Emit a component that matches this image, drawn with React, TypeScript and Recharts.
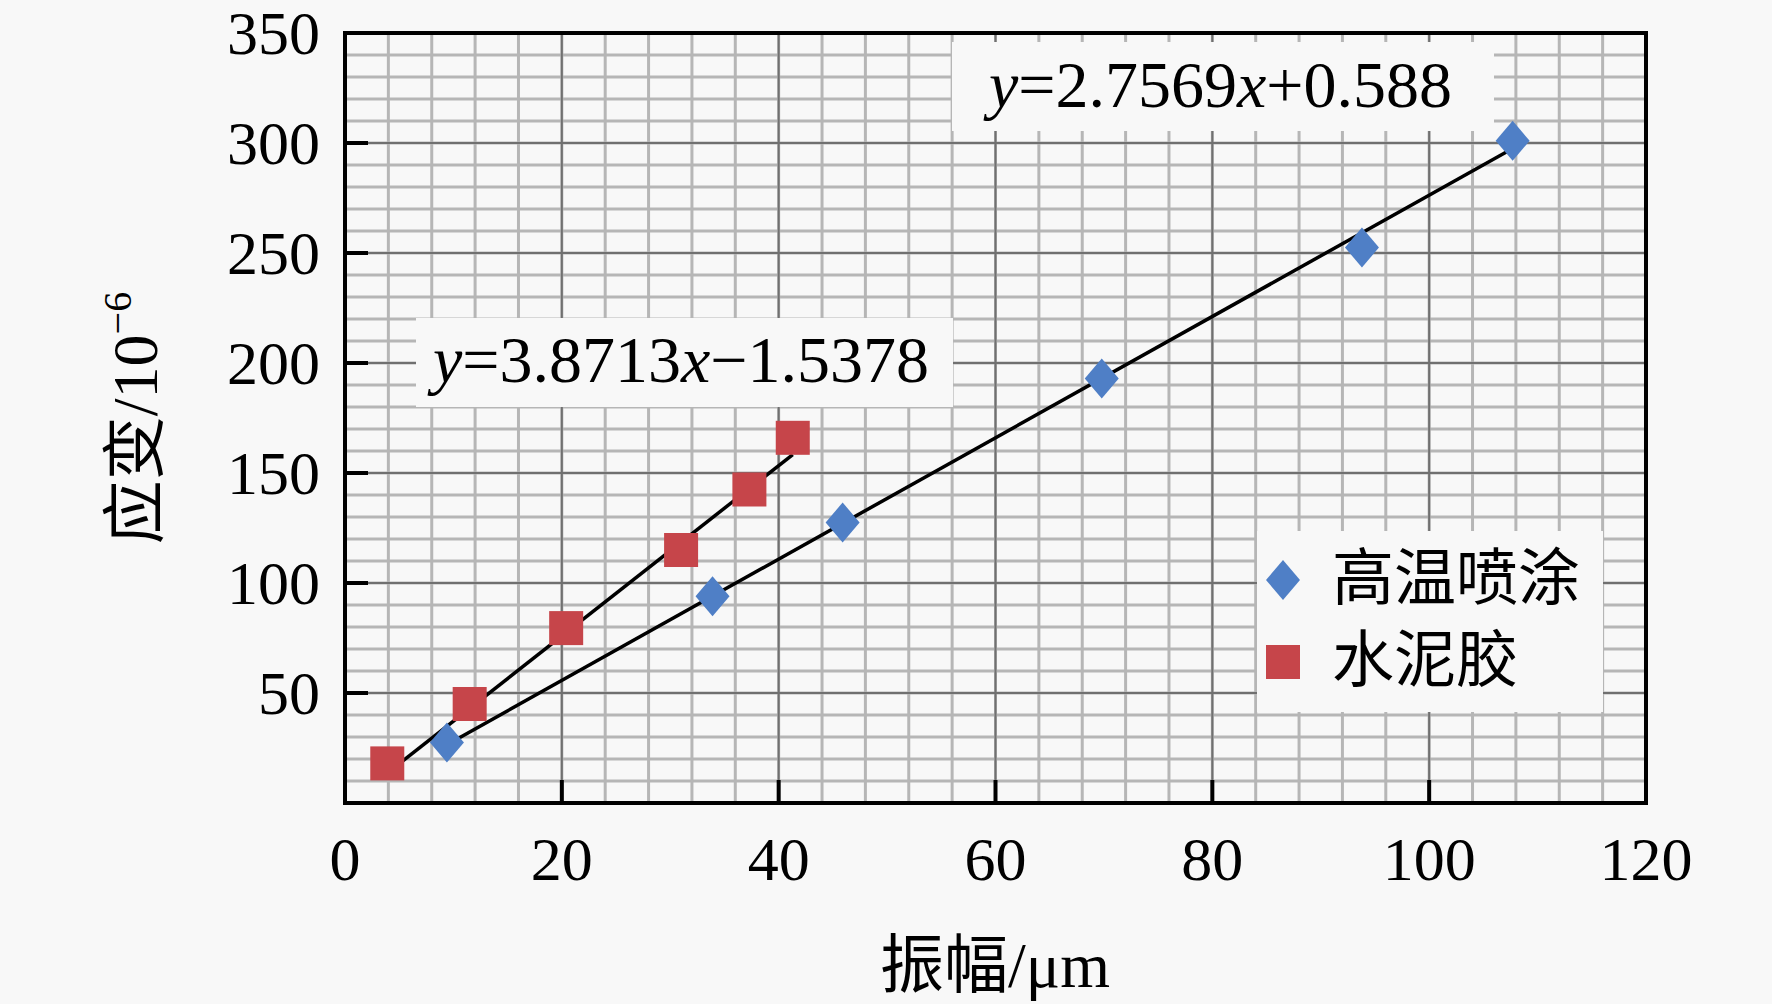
import React from 'react';
import { ScatterChart, Scatter, XAxis, YAxis, CartesianGrid, ReferenceLine, ReferenceArea, Legend } from 'recharts';

// 高温喷涂 (blue diamonds)
const sprayX = [9.4, 33.9, 45.9, 69.8, 93.8, 107.7];
const sprayY = [27.5, 94, 127.5, 193, 252.5, 301];
// 水泥胶 (red squares)
const gelX = [3.9, 11.5, 20.4, 31.0, 37.3, 41.3];
const gelY = [18, 45, 79.5, 115, 142.5, 166];

// fitted lines, end points
const sprayFit = [{ x: 9.4, y: 26.5 }, { x: 107.7, y: 297.5 }];
const gelFit = [{ x: 3.9, y: 13.6 }, { x: 41.3, y: 158.4 }];

const seriesNames = ['高温喷涂', '水泥胶'];

const xTicks = [0, 20, 40, 60, 80, 100, 120];
const yTicks = [50, 100, 150, 200, 250, 300, 350];
const xMajor = [20, 40, 60, 80, 100];
const yMajor = [50, 100, 150, 200, 250, 300];
const xMinor = Array.from({ length: 31 }, (_, i) => i * 4);
const yMinor = Array.from({ length: 36 }, (_, i) => i * 10);

const sprayData = sprayX.map((x, i) => ({ x, y: sprayY[i] }));
const gelData = gelX.map((x, i) => ({ x, y: gelY[i] }));

const BLUE = '#4f7fc6';
const RED = '#c6454a';
const BG = '#f8f8f8';
const SERIF = "'Liberation Serif', 'Times New Roman', 'Noto Sans CJK SC', serif";
const CJK = "'Liberation Serif', 'Noto Sans CJK SC', sans-serif";

const Diamond = ({ cx, cy }: any) => (
  <polygon points={`${cx},${cy - 20} ${cx + 17},${cy} ${cx},${cy + 20} ${cx - 17},${cy}`} fill={BLUE} />
);
const Square = ({ cx, cy }: any) => <rect x={cx - 17} y={cy - 17} width={34} height={34} fill={RED} />;

const XTick = ({ x, y, payload }: any) => (
  <g>
    {payload.value > 0 && payload.value < 120 && <line x1={x} x2={x} y1={y} y2={y - 23} stroke="#000" strokeWidth={4} />}
    <text x={x} y={y + 77} textAnchor="middle" fontFamily={SERIF} fontSize={62} fill="#000">{payload.value}</text>
  </g>
);

const YTick = ({ x, y, payload }: any) => (
  <g>
    {payload.value < 350 && <line x1={x} x2={x + 23} y1={y} y2={y} stroke="#000" strokeWidth={4} />}
    <text x={x - 25} y={y + 21} textAnchor="end" fontFamily={SERIF} fontSize={62} fill="#000">{payload.value}</text>
  </g>
);

const XTitle = () => (
  <text x={995} y={987} textAnchor="middle" fontFamily={CJK} fontSize={64} fill="#000">振幅/μm</text>
);

const YTitle = () => (
  <text transform="translate(157,418) rotate(-90)" textAnchor="middle" fontFamily={CJK} fontSize={64} fill="#000">
    应变/10<tspan dy={-26} fontSize={40}>−6</tspan>
  </text>
);

const LegendBox = ({ payload }: any) => {
  const items = [...(payload || [])].sort((a: any, b: any) => seriesNames.indexOf(a.value) - seriesNames.indexOf(b.value));
  return (
    <svg width={346} height={181} style={{ display: 'block', overflow: 'visible' }}>
      <rect x={0} y={0} width={346} height={181} fill={BG} />
      {items.map((p: any, i: number) => {
        const cy = i === 0 ? 49 : 131;
        return (
          <g key={p.value}>
            {p.value === seriesNames[0] ? <Diamond cx={26} cy={cy} /> : <Square cx={26} cy={cy} />}
            <text x={75} y={cy + 20} fontFamily="'Noto Sans CJK SC', sans-serif" fontSize={62} fill="#000">{p.value}</text>
          </g>
        );
      })}
    </svg>
  );
};

export default function App() {
  return (
    <div style={{ position: 'absolute', left: 0, top: 0, width: 1772, height: 1004, background: BG }}>
      <ScatterChart width={1772} height={1004} margin={{ top: 33, right: 126, bottom: 141, left: 265 }}>
        <CartesianGrid stroke="#b6b6b6" strokeWidth={3} horizontalValues={yMinor} verticalValues={xMinor} />
        <CartesianGrid stroke="#707070" strokeWidth={2} horizontalValues={yMajor} verticalValues={xMajor} />
        <XAxis type="number" dataKey="x" domain={[0, 120]} ticks={xTicks} height={60} axisLine={false}
          tickLine={false} tickSize={0} tickMargin={0} tick={<XTick />} interval={0} label={<XTitle />} />
        <YAxis type="number" dataKey="y" domain={[0, 350]} ticks={yTicks} width={80} axisLine={false}
          tickLine={false} tickSize={0} tickMargin={0} tick={<YTick />} interval={0} label={<YTitle />} />
        <Scatter name={seriesNames[0]} data={sprayData} fill={BLUE} shape={<Diamond />} isAnimationActive={false} />
        <Scatter name={seriesNames[1]} data={gelData} fill={RED} shape={<Square />} isAnimationActive={false} />
        <ReferenceLine segment={sprayFit} stroke="#000" strokeWidth={3.5} />
        <ReferenceLine segment={gelFit} stroke="#000" strokeWidth={3.5} />
        <ReferenceArea x1={0} x2={120} y1={0} y2={350} fill="none" stroke="#000" strokeWidth={4} />
        <Legend layout="vertical" align="center" verticalAlign="middle" content={<LegendBox />}
          wrapperStyle={{ position: 'absolute', left: 1257, top: 531, width: 346, height: 181 }} />
      </ScatterChart>
      <svg width={1772} height={1004} style={{ position: 'absolute', left: 0, top: 0, pointerEvents: 'none' }}>
        <rect x={952} y={42} width={542} height={89} fill={BG} />
        <text x={989} y={107} fontFamily={SERIF} fontSize={66} fill="#000">
          <tspan fontStyle="italic">y</tspan>=2.7569<tspan fontStyle="italic">x</tspan>+0.588
        </text>
        <rect x={416} y={318} width={537} height={89} fill={BG} />
        <text x={433} y={382} fontFamily={SERIF} fontSize={66} fill="#000">
          <tspan fontStyle="italic">y</tspan>=3.8713<tspan fontStyle="italic">x</tspan>−1.5378
        </text>
      </svg>
    </div>
  );
}
